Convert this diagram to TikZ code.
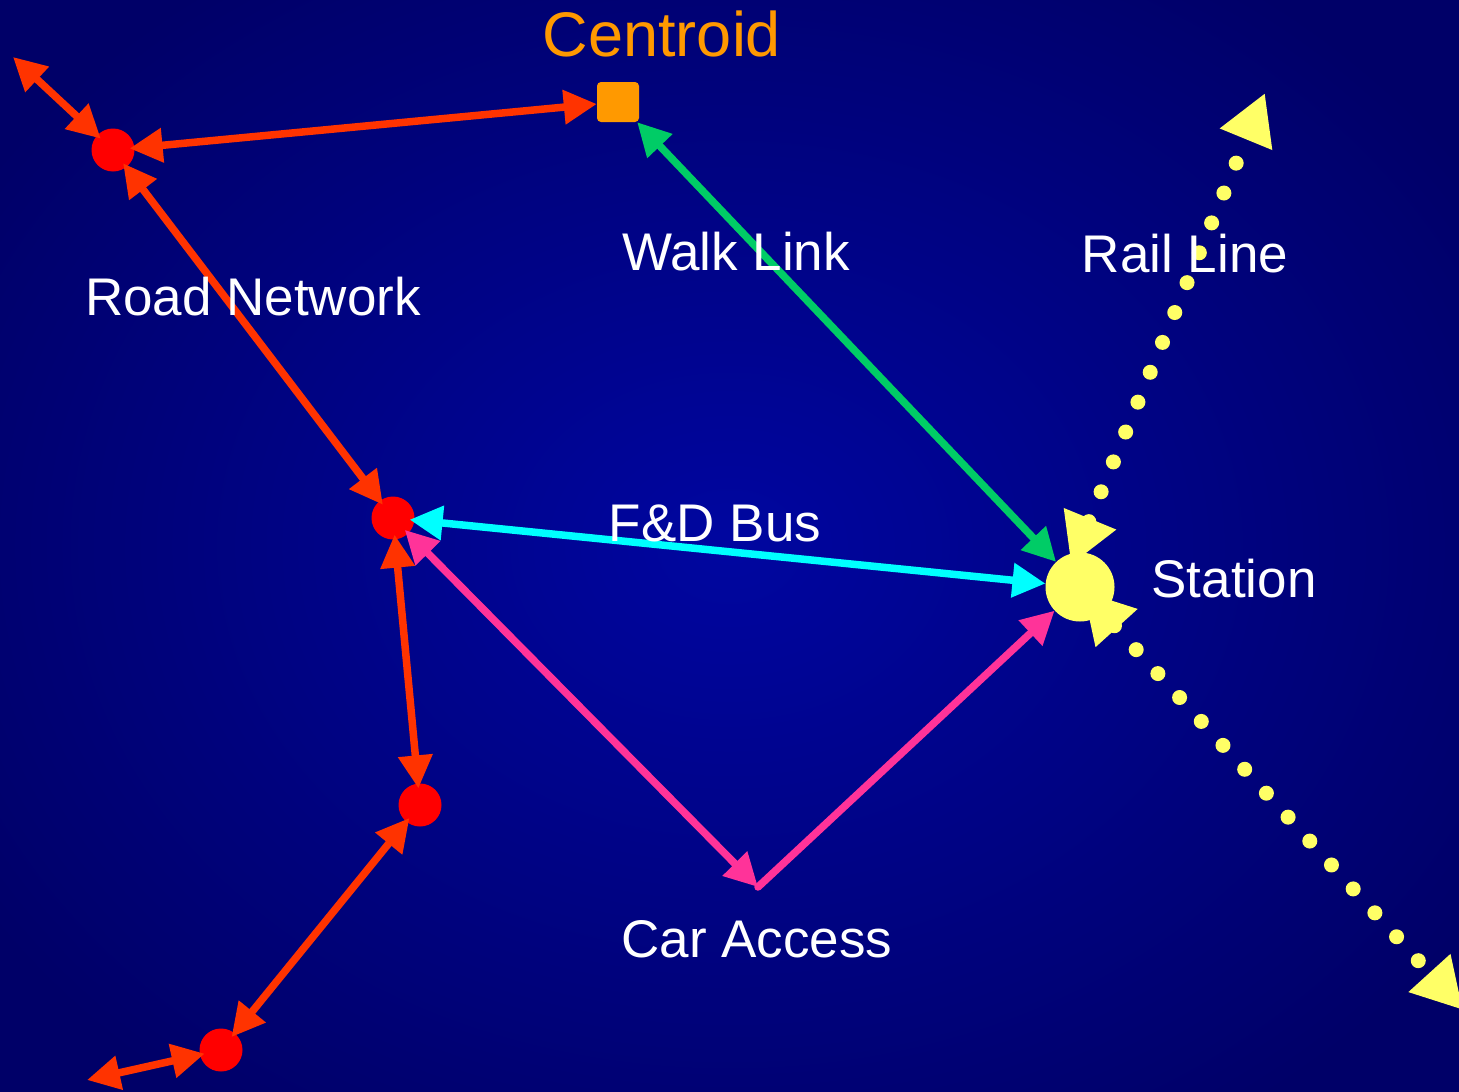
\documentclass[tikz,border=0pt]{standalone}
\usepackage{fontspec}
\setmainfont{Liberation Sans}
\usetikzlibrary{arrows.meta}
\definecolor{roadc}{HTML}{FF3300}
\definecolor{nodered}{HTML}{FF0000}
\definecolor{walkc}{HTML}{00CC66}
\definecolor{busc}{HTML}{00FFFF}
\definecolor{carc}{HTML}{FF3399}
\definecolor{railc}{HTML}{FFFF66}
\definecolor{centc}{HTML}{FF9900}
\definecolor{bgin}{RGB}{0,6,160}
\definecolor{bgout}{RGB}{0,0,104}
\tikzset{
  rednode/.style={circle,fill=nodered,minimum size=43pt,inner sep=0pt},
  stationnode/.style={circle,fill=railc,minimum size=69pt,inner sep=0pt},
  centnode/.style={rectangle,rounded corners=4pt,fill=centc,minimum width=42pt,minimum height=40pt,inner sep=0pt},
  lbl/.style={text=white,font=\fontsize{53}{60}\selectfont,inner sep=0pt},
  link/.style={line width=7.5pt,{Triangle[length=33pt,width=33pt]}-{Triangle[length=33pt,width=33pt]}},
  onelink/.style={line width=7.5pt,-{Triangle[length=33pt,width=33pt]},line cap=round},
  inA/.style={shorten <=-5pt},
  inB/.style={shorten >=-5pt},
  rail/.style={railc,line width=15pt,line cap=round,dash pattern=on 0pt off 32.3pt,
    {Triangle[length=50pt,width=53pt]}-{Triangle[length=50pt,width=53pt]}}
}
\begin{document}
\begin{tikzpicture}[x=1pt,y=-1pt]
\useasboundingbox (0,0) rectangle (1459,1092);
\shade[inner color=bgin,outer color=bgout] (-150,-150) rectangle (1609,1242);
% nodes
\node[rednode] (A) at (113,150) {};
\node[rednode] (B) at (393,518) {};
\node[rednode] (C) at (420,805) {};
\node[rednode] (D) at (221,1050) {};
\node[centnode] (Cen) at (618,102) {};
\node[stationnode] (S) at (1080,587) {};
\coordinate (tl) at (13,57);
\coordinate (bl) at (87,1080);
\coordinate (corner) at (758,887);
\coordinate (r1a) at (1071,565);
\coordinate (r1b) at (1265,93);
\coordinate (r2a) at (1083,591);
\coordinate (r2b) at (1463,1010);
% rail lines
\draw[rail] (r1a) -- (r1b);
\draw[rail] (r2a) -- (r2b);
% road network
\draw[link,roadc,inB] (tl) -- (A);
\draw[link,roadc,inA] (A) -- (Cen);
\draw[link,roadc,inA,inB] (A) -- (B);
\draw[link,roadc,inA,inB] (B) -- (C);
\draw[link,roadc,inA,inB] (C) -- (D);
\draw[link,roadc,inB] (bl) -- (D);
% walk link
\draw[link,walkc] (Cen) -- (S);
% bus
\draw[link,busc,inA] (B) -- (S);
% car access
\draw[link,carc,inA] (B) -- (corner);
\draw[onelink,carc] (corner) -- (S);
% labels
\node[text=centc,font=\fontsize{63}{70}\selectfont,inner sep=0pt] (lc) at (662,34) {Centroid};
\node[lbl] (lr) at (253,297) {Road Network};
\node[lbl] (lw) at (736,252) {Walk Link};
\node[lbl] (lrl) at (1185,254) {Rail Line};
\node[lbl] (lb) at (715,523) {F\&D Bus};
\node[lbl] (ls) at (1234,579) {Station};
\node[lbl] (la) at (757,939) {Car Access};
\end{tikzpicture}
\end{document}
